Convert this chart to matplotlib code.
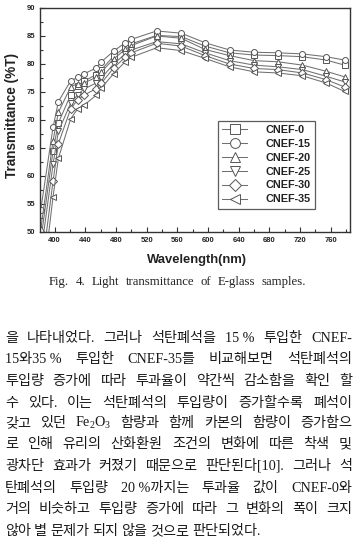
import matplotlib
matplotlib.use("Agg")
import matplotlib.pyplot as plt
from matplotlib.ticker import MultipleLocator

# ---------------- data ----------------
wavelength = [382, 398, 405, 421, 430, 438, 454, 461, 477, 492, 500, 533,
              565, 596, 628, 660, 691, 723, 754, 778]
cnef0  = [48.5, 64.5, 69.5, 74.5, 76.0, 76.9, 78.1, 79.0, 81.4, 83.0, 83.6, 85.1,
          84.9, 83.2, 82.0, 81.6, 81.5, 81.3, 80.7, 79.8]
cnef15 = [54.0, 68.7, 73.3, 77.0, 77.6, 78.2, 79.3, 80.4, 82.3, 83.8, 84.4, 85.9,
          85.5, 83.8, 82.5, 82.1, 82.0, 81.8, 81.3, 80.7]
cnef20 = [50.5, 66.3, 71.4, 75.9, 76.5, 76.6, 77.6, 78.6, 80.9, 82.6, 83.3, 85.0,
          84.6, 82.6, 81.5, 80.6, 80.4, 79.8, 78.7, 77.7]
cnef25 = [46.0, 62.1, 68.0, 73.0, 74.5, 75.5, 76.6, 77.5, 80.0, 81.8, 82.5, 84.0,
          83.6, 82.0, 80.6, 79.8, 79.5, 79.0, 77.8, 76.8]
cnef30 = [42.0, 59.1, 65.8, 72.0, 73.6, 74.4, 75.6, 76.6, 79.3, 81.2, 82.0, 83.7,
          83.2, 81.5, 80.0, 79.2, 79.0, 78.4, 77.2, 75.9]
cnef35 = [38.0, 56.3, 63.2, 70.2, 72.0, 72.6, 74.4, 75.7, 78.3, 80.4, 81.2, 82.9,
          82.4, 81.0, 79.5, 78.6, 78.4, 77.9, 76.6, 75.1]

series_labels = ["CNEF-0", "CNEF-15", "CNEF-20", "CNEF-25", "CNEF-30", "CNEF-35"]
series_values = [cnef0, cnef15, cnef20, cnef25, cnef30, cnef35]
series_markers = ["s", "o", "^", "v", "D", "<"]

x_label = "Wavelength(nm)"
y_label = "Transmittance (%T)"
caption = "Fig. 4. Light transmittance of E-glass samples."

paragraph = [
    "을 나타내었다. 그러나 석탄폐석을 15~% 투입한 CNEF-",
    "15와35~% 투입한 CNEF-35를 비교해보면 석탄폐석의",
    "투입량 증가에 따라 투과율이 약간씩 감소함을 확인 할",
    "수 있다. 이는 석탄폐석의 투입량이 증가할수록 폐석이",
    "갖고 있던 Fe$_2$O$_3$ 함량과 함께 카본의 함량이 증가함으",
    "로 인해 유리의 산화환원 조건의 변화에 따른 착색 및",
    "광차단 효과가 커졌기 때문으로 판단된다[10]. 그러나 석",
    "탄폐석의 투입량 20~%까지는 투과율 값이 CNEF-0와",
    "거의 비슷하고 투입량 증가에 따라 그 변화의 폭이 크지",
    "않아 별 문제가 되지 않을 것으로 판단되었다.",
]

# ---------------- figure ----------------
W, H = 356, 545
plt.rcParams["mathtext.fontset"] = "custom"
plt.rcParams["mathtext.rm"] = "Liberation Serif"
plt.rcParams["mathtext.it"] = "Liberation Serif:italic"
plt.rcParams["mathtext.bf"] = "Liberation Serif:bold"

fig = plt.figure(figsize=(W / 100, H / 100), dpi=100)
ax = fig.add_axes([40 / W, 1 - 232 / H, 310 / W, 224 / H])

line_col = "#707070"
for lab, vals, mk in zip(series_labels, series_values, series_markers):
    ms = 3.6 if mk == "D" else 4.3
    ax.plot(wavelength, vals, color=line_col, lw=0.75, marker=mk, ms=ms,
            mfc="white", mec="#555555", mew=0.7, label=lab)

ax.set_xlim(381, 785)
ax.set_ylim(50, 90)
ax.xaxis.set_major_locator(MultipleLocator(40))
ax.xaxis.set_minor_locator(MultipleLocator(20))
ax.yaxis.set_major_locator(MultipleLocator(5))
ax.yaxis.set_minor_locator(MultipleLocator(2.5))
ax.tick_params(which="both", direction="in", top=False, right=False,
               color="#333333", width=0.8)
ax.tick_params(which="major", length=3.5, pad=3.5)
ax.tick_params(which="minor", length=2)
for lbl in ax.get_xticklabels() + ax.get_yticklabels():
    lbl.set_fontfamily("Liberation Sans")
    lbl.set_fontweight("bold")
    lbl.set_fontsize(5.5)
    lbl.set_color("#222222")
for sp in ax.spines.values():
    sp.set_color("#333333")
    sp.set_linewidth(1.0)

fig.text(12 / W, 1 - 115 / H, y_label, rotation=90, ha="center", va="center",
         fontfamily="Liberation Sans", fontweight="bold", fontsize=9.8,
         color="#222222")
fig.text(197 / W, 1 - 260 / H, x_label, ha="center", va="center",
         fontfamily="Liberation Sans", fontweight="bold", fontsize=9.4,
         color="#222222")

leg = ax.legend(loc="upper left", bbox_to_anchor=((218 - 40) / 310, (232 - 120.5) / 224),
                frameon=True, fancybox=False, edgecolor="#333333",
                prop={"family": "Liberation Sans", "weight": "bold", "size": 7.8},
                handlelength=2.3, handletextpad=1.7, labelspacing=0.36,
                borderpad=0.4, borderaxespad=0, markerscale=1.65)
leg.get_frame().set_linewidth(0.9)
for t in leg.get_texts():
    t.set_color("#222222")

# ---------------- justified text ----------------
renderer = fig.canvas.get_renderer()
serif_cjk = ["Liberation Serif", "Noto Sans CJK KR"]


def place_line(words, y_base, left, right, justify, size, color):
    texts = [fig.text(0, 1 - y_base / H, w.replace("~", " "), ha="left",
                      va="baseline", fontfamily=serif_cjk, fontsize=size,
                      color=color) for w in words]
    widths = [t.get_window_extent(renderer).width for t in texts]
    if justify and len(words) > 1:
        gap = (right - left - sum(widths)) / (len(words) - 1)
    else:
        gap = size * 0.3
    x = left
    for t, w in zip(texts, widths):
        t.set_x(x / W)
        x += w + gap


place_line(caption.split(" "), 285.5, 49, 306, True, 9.2, "#222222")

line_centers = [336.7, 358.3, 380.0, 401.7, 421.7, 443.3, 465.0, 486.7, 508.3, 530.0]
for i, (ln, yc) in enumerate(zip(paragraph, line_centers)):
    place_line(ln.split(" "), yc + 5.0, 5, 352, i < len(paragraph) - 1, 10.2,
               "#1a1a1a")

fig.savefig("out.png", dpi=100)
